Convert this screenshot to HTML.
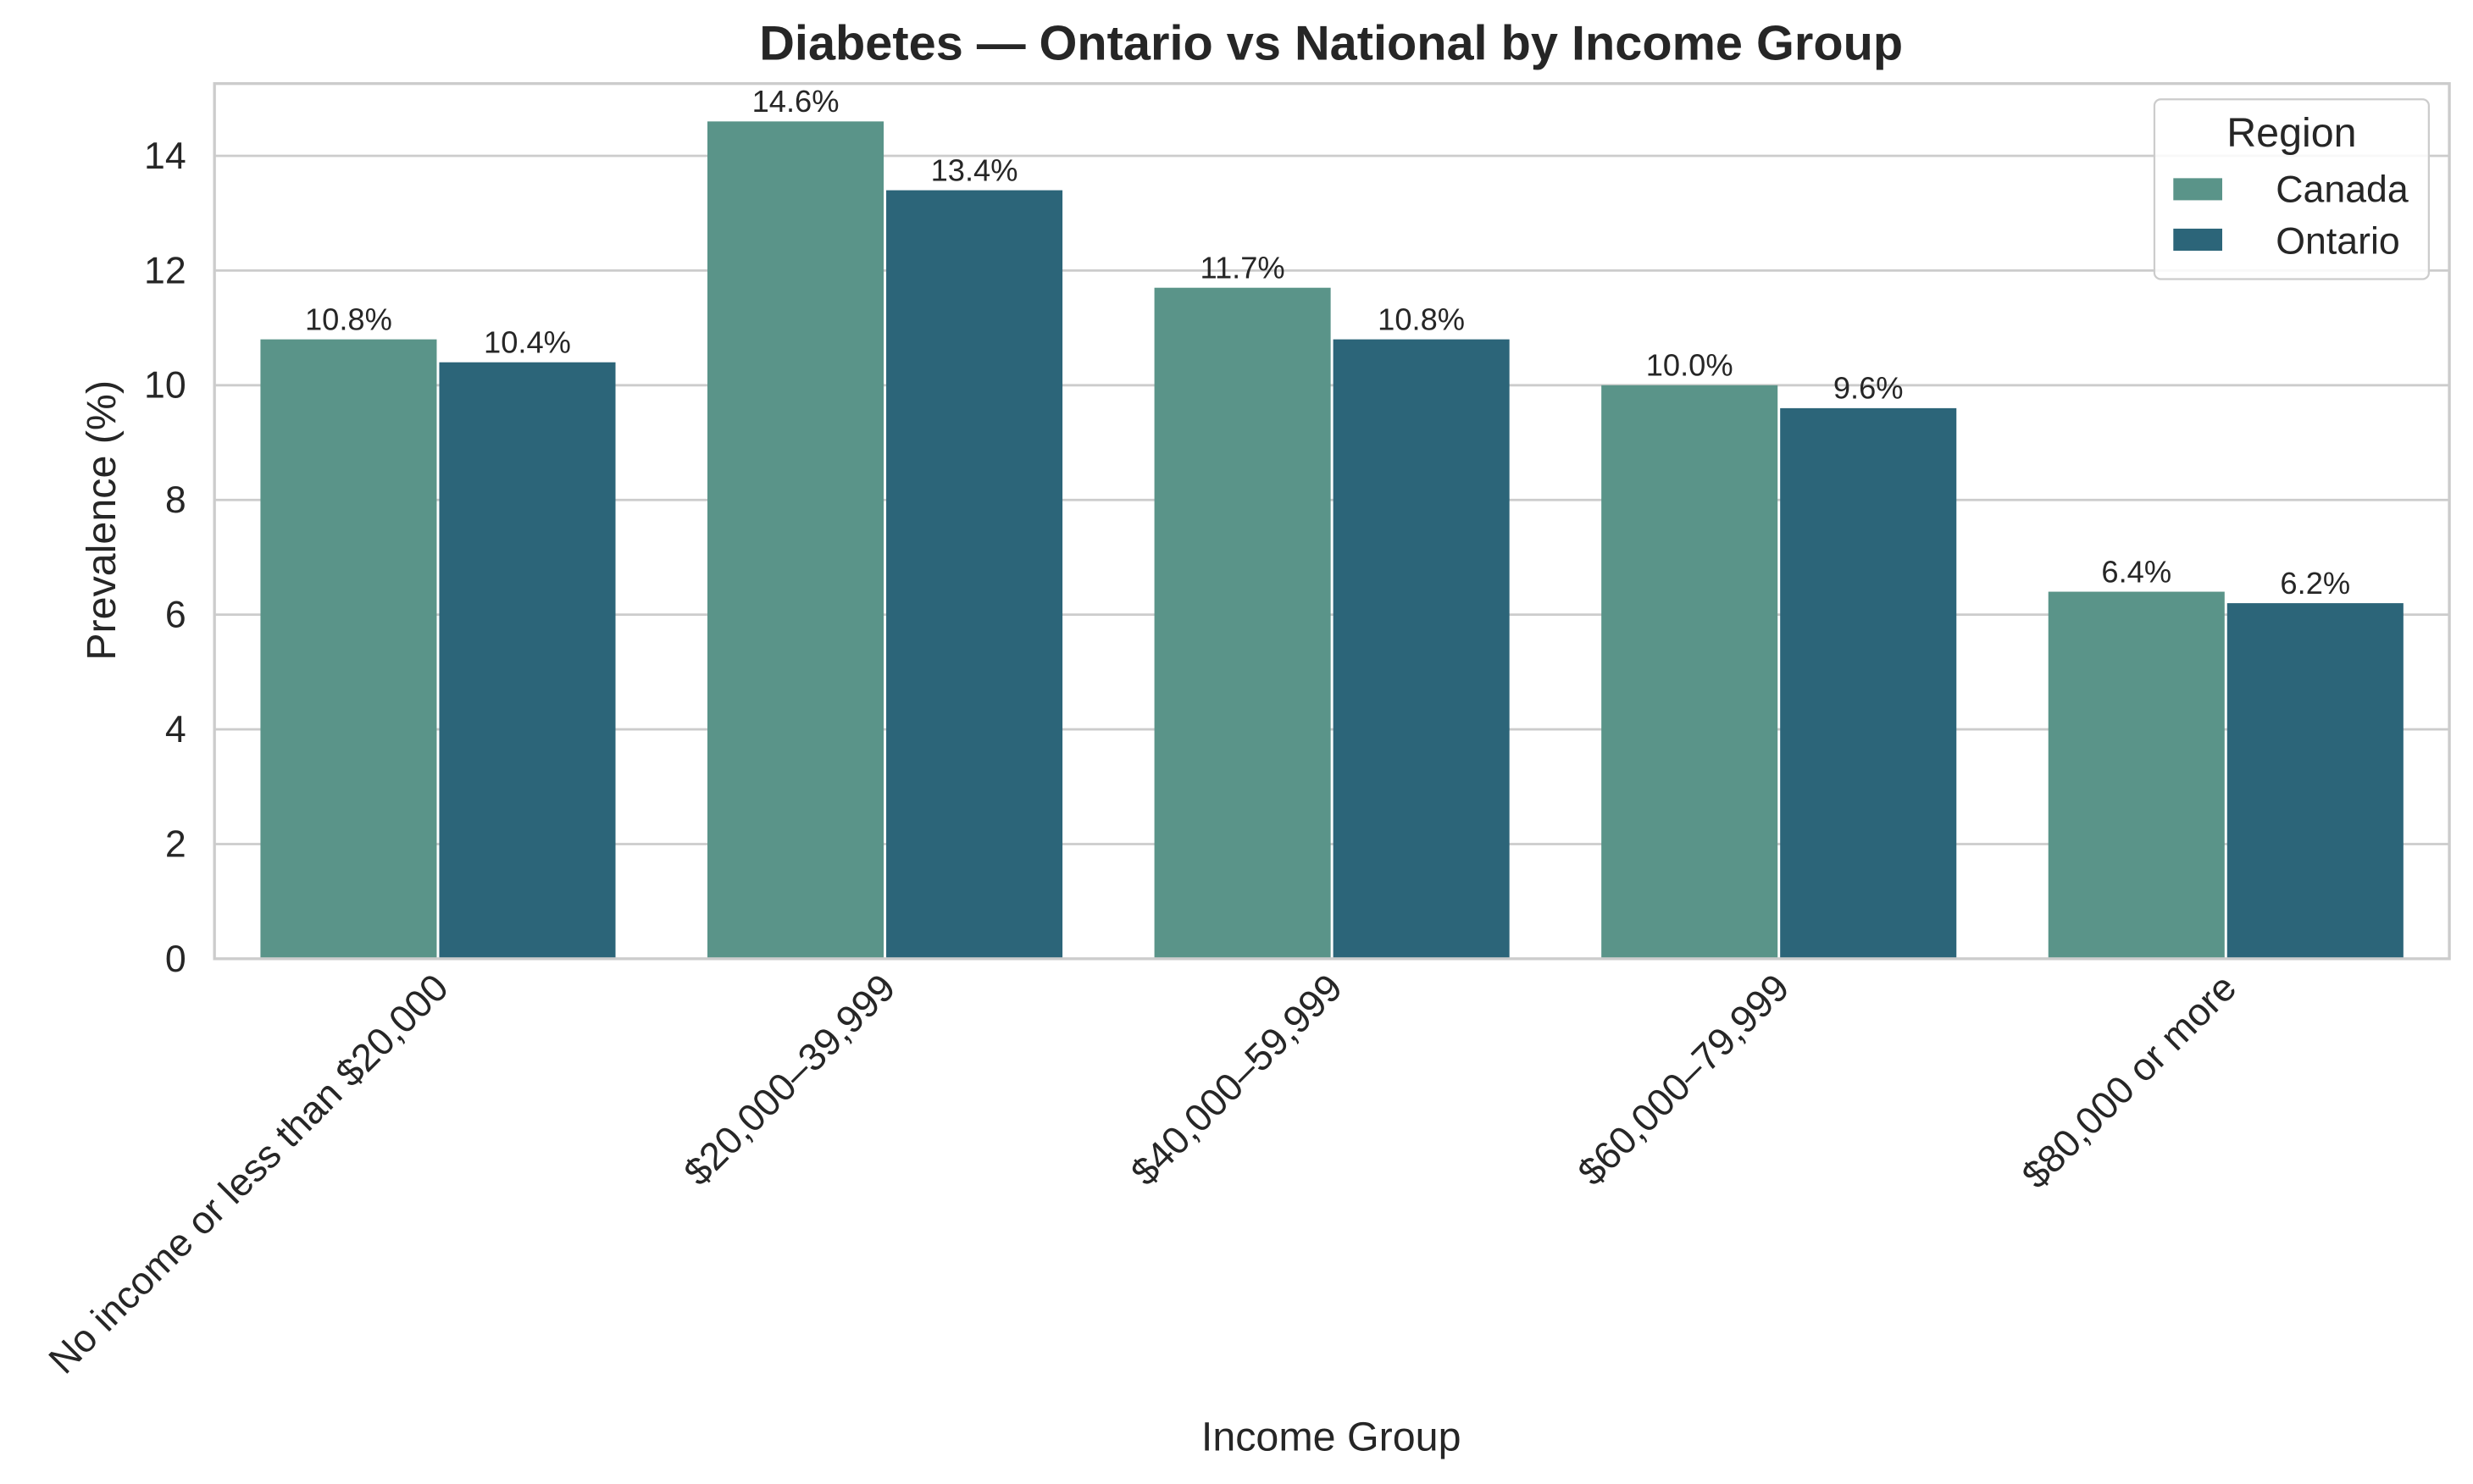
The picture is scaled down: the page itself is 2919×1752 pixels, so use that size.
<!DOCTYPE html>
<html><head><meta charset="utf-8"><style>
html,body{margin:0;padding:0;background:#fff;}
svg{display:block;font-family:"Liberation Sans",sans-serif;}
</style></head><body>
<svg id="chart" width="2919" height="1752" viewBox="0 0 1568 941.1" preserveAspectRatio="none" xmlns="http://www.w3.org/2000/svg">
<rect width="1568" height="941.1" fill="#fff"/>
<g id="grid"></g>
<g id="bars"></g>
<g id="labels"></g>
<rect x="136" y="53" width="1417" height="555" fill="none" stroke="#cccccc" stroke-width="1.8"/>
<g id="ticks"></g>
<text x="844" y="38" text-anchor="middle" font-size="31" font-weight="bold" fill="#262626">Diabetes — Ontario vs National by Income Group</text>
<text transform="translate(73,330) rotate(-90)" text-anchor="middle" font-size="26" fill="#262626">Prevalence (%)</text>
<text x="844" y="920" text-anchor="middle" font-size="26" fill="#262626">Income Group</text>
<g>
<rect x="1366" y="63" width="174" height="114" rx="4" fill="#fff" fill-opacity="0.85" stroke="#cccccc" stroke-width="1.2"/>
<text x="1453" y="93" text-anchor="middle" font-size="26" fill="#262626">Region</text>
<rect x="1378" y="113" width="31" height="14" fill="#5a9489"/>
<text x="1443" y="128" font-size="24" fill="#262626">Canada</text>
<rect x="1378" y="145" width="31" height="14" fill="#2c6579"/>
<text x="1443" y="161" font-size="24" fill="#262626">Ontario</text>
</g>
</svg>
<script>
const categories = ["No income or less than $20,000","$20,000–39,999","$40,000–59,999","$60,000–79,999","$80,000 or more"];
const canadaValues = [10.8,14.6,11.7,10.0,6.4];
const ontarioValues = [10.4,13.4,10.8,9.6,6.2];
const yTicks = [0,2,4,6,8,10,12,14];
const NS="http://www.w3.org/2000/svg";
const L=136,R=1553,T=53,B=608,YMAX=15.26;
const y=v=>B-(v/YMAX)*(B-T);
const band=(R-L)/categories.length;
const xc=i=>L+band*(i+0.5);
function mk(t,a,p){const e=document.createElementNS(NS,t);for(const k in a)e.setAttribute(k,a[k]);p.appendChild(e);return e;}
const grid=document.getElementById('grid'),bars=document.getElementById('bars'),labels=document.getElementById('labels'),ticks=document.getElementById('ticks');
yTicks.forEach(v=>{
 const g=mk('line',{x1:L,x2:R,y1:y(v),y2:y(v),stroke:'#cccccc','stroke-width':1.5},grid);
 
 
 const t=mk('text',{x:L-18,y:y(v)+8,'text-anchor':'end','font-size':24,fill:'#262626'},ticks);
 t.textContent=v;
 
 
});
const bw=band*0.4;
const series=[[canadaValues,'#5a9489','canada',-1],[ontarioValues,'#2c6579','ontario',0]];
categories.forEach((c,i)=>{
 series.forEach(([vals,col,nm,off])=>{
  const x0=xc(i)+off*bw;
  const r=mk('rect',{x:x0+0.8,y:y(vals[i]),width:bw-1.6,height:B-y(vals[i]),fill:col},bars);
  
  
  const t=mk('text',{x:x0+bw/2,y:y(vals[i])-6,'text-anchor':'middle','font-size':19.5,fill:'#262626'},labels);
  t.textContent=vals[i].toFixed(1)+'%';
  
  
 });
 const t=mk('text',{transform:`translate(${xc(i)+8},628) rotate(-45)`,'text-anchor':'end','font-size':24.5,fill:'#262626'},ticks);
 t.textContent=c;
 
 
});
</script>
</body></html>
